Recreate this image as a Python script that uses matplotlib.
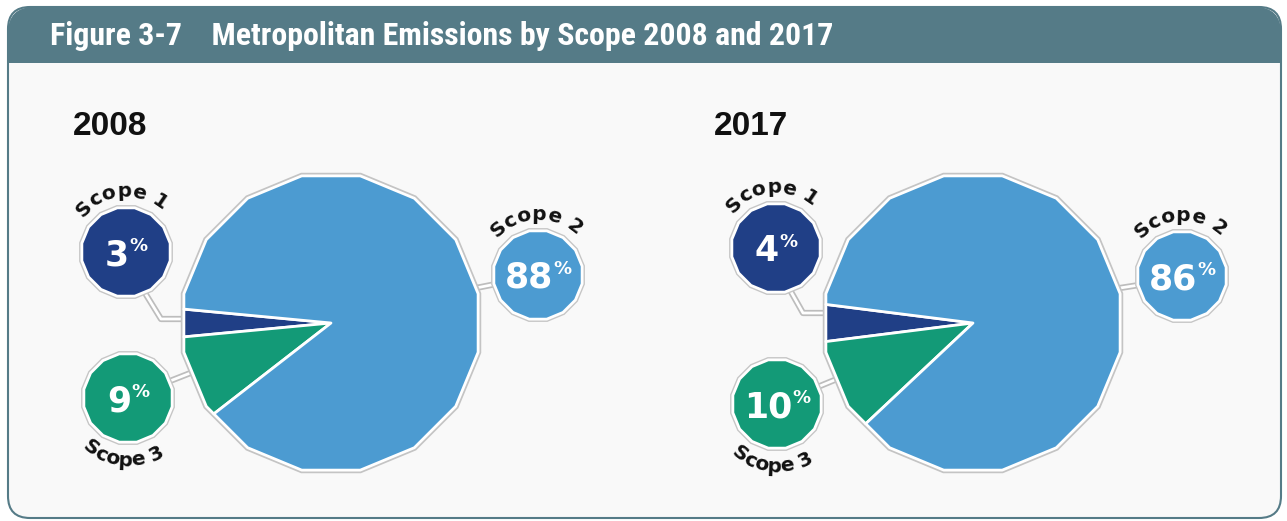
import matplotlib
matplotlib.use("Agg")
import numpy as np
import matplotlib.pyplot as plt
import matplotlib.patheffects as pe
from matplotlib.patches import FancyBboxPatch, Rectangle, RegularPolygon, Polygon
from matplotlib.font_manager import FontProperties, findfont
from matplotlib.textpath import text_to_path

# ---------------- data ----------------
title = "Figure 3-7    Metropolitan Emissions by Scope 2008 and 2017"
years = ["2008", "2017"]
scopes = ["Scope 1", "Scope 3", "Scope 2"]          # pie order (counter-clockwise)
values_2008 = [3, 9, 88]
values_2017 = [4, 10, 86]
values = {"2008": values_2008, "2017": values_2017}

# ---------------- styles / layout ----------------
scope_colors = ["#203f86", "#139a77", "#4c9bd1"]
header_color = "#557b87"
panel_color = "#f9f9f9"

W, H = 1287, 521
fig = plt.figure(figsize=(W / 100, H / 100), dpi=100)
fig.patch.set_facecolor("white")
ax = fig.add_axes([0, 0, 1, 1])


def Y(y):
    return H - y


pie_center = {"2008": (331, 323), "2017": (973, 323)}
pie_radius = 150
bubble_center = {"2008": [(126, 252), (128, 398), (538, 275)],
                 "2017": [(776, 248), (777, 404), (1182, 276)]}
bubble_radius = 45
label_side = ["top", "bottom", "top"]
label_angle = [95, 265, 92]
year_pos = {"2008": (73, 135), "2017": (714, 135)}
connectors = {"2008": [[(145, 293), (161, 319), (184, 319)],
                       [(170, 381), (193, 372)],
                       [(476, 288), (496, 284)]],
              "2017": [[(790, 290), (803, 313), (829, 313)],
                       [(820, 386), (837, 379)],
                       [(1120, 288), (1139, 285)]]}


def pick_font(cands):
    for c in cands:
        try:
            findfont(FontProperties(family=c), fallback_to_default=False)
            return c
        except Exception:
            continue
    return "DejaVu Sans"


title_font = pick_font(["Liberation Sans Narrow", "Roboto Condensed", "Open Sans Condensed",
                        "Noto Sans", "Open Sans"])

# ---------------- frame ----------------
panel = FancyBboxPatch((8, Y(518)), 1273, 511, boxstyle="round,pad=0,rounding_size=22",
                       facecolor=panel_color, edgecolor=header_color, linewidth=1.5, zorder=0)
ax.add_patch(panel)
header = FancyBboxPatch((8, Y(63)), 1273, 56, boxstyle="round,pad=0,rounding_size=26",
                        facecolor=header_color, edgecolor="none", zorder=0.5)
ax.add_patch(header)
ax.add_patch(Rectangle((8, Y(63)), 1273, 28, facecolor=header_color, edgecolor="none", zorder=0.6))

ttl = ax.text(50, Y(36), title, ha="left", va="center", color="white",
              fontsize=21, fontweight="bold", family=title_font, zorder=5)
fig.canvas.draw()
bb = ttl.get_window_extent()
target_w = 783
ttl.set_fontsize(21 * target_w / bb.width if bb.width > 0 else 21)


# ---------------- helpers ----------------
def poly_boundary(cx, cy, R, theta, n=16, off=11.25):
    step = 360.0 / n
    rel = (theta - off) % step
    d = R * np.cos(np.pi / n) / np.cos(np.radians(rel - step / 2))
    return cx + d * np.cos(np.radians(theta)), cy + d * np.sin(np.radians(theta))


def poly_wedge(cx, cy, R, t1, t2, n=16, off=11.25):
    step = 360.0 / n
    pts = [(cx, cy), poly_boundary(cx, cy, R, t1, n, off)]
    a = off + np.ceil((t1 - off) / step) * step
    while a < t2 - 1e-9:
        pts.append((cx + R * np.cos(np.radians(a)), cy + R * np.sin(np.radians(a))))
        a += step
    pts.append(poly_boundary(cx, cy, R, t2, n, off))
    return pts


def text_width_px(s, fp):
    w, h, d = text_to_path.get_text_width_height_descent(s, fp, ismath=False)
    return w * 100.0 / 72.0


label_fp = FontProperties(family="DejaVu Sans", weight="bold", size=14.5)


def arc_text(text, cx, cy, radius, center_deg, side, fp, tracking=0.0):
    widths = [text_width_px(ch, fp) + tracking for ch in text]
    total = sum(widths)
    pos = np.cumsum([0] + widths[:-1]) + np.array(widths) / 2
    for ch, p in zip(text, pos):
        off = np.degrees((total / 2 - p) / radius)
        if side == "top":
            ang = center_deg + off
            rot = ang - 90
        else:
            ang = center_deg - off
            rot = ang + 90
        x = cx + radius * np.cos(np.radians(ang))
        y = cy + radius * np.sin(np.radians(ang))
        ax.text(x, y, ch, ha="center", va="baseline", rotation=rot, rotation_mode="anchor",
                fontproperties=fp, color="#111111", zorder=6)


num_fp = FontProperties(family="DejaVu Sans", weight="bold", size=25)
pct_fp = FontProperties(family="DejaVu Sans", weight="bold", size=13)
shadow = [pe.Stroke(linewidth=4, foreground="#c6c6c6"), pe.Normal()]

# ---------------- pies ----------------
for yr in years:
    vals = values[yr]
    cx, cyp = pie_center[yr]
    cy = Y(cyp)
    start = 180 - vals[0] * 3.6 / 2
    wedges, _ = ax.pie(vals, colors=scope_colors, startangle=start, counterclock=True,
                       center=(cx, cy), radius=pie_radius)
    # soft drop-shadow outline of the whole (polygonal) pie
    ax.add_patch(RegularPolygon((cx, cy), numVertices=16, radius=pie_radius,
                                orientation=np.radians(11.25),
                                facecolor="none", edgecolor="#c4c4c4", linewidth=4.5, zorder=1.5))
    for w in wedges:
        pts = poly_wedge(w.center[0], w.center[1], w.r, w.theta1, w.theta2)
        ax.add_patch(Polygon(pts, closed=True, facecolor=w.get_facecolor(), edgecolor="white",
                             linewidth=2, joinstyle="round", zorder=2))
        w.set_visible(False)

    # year label
    xp, yp = year_pos[yr]
    ax.text(xp, Y(yp), yr, ha="left", va="baseline", fontsize=24, fontweight="bold",
            family="Liberation Sans", color="#111111", zorder=5)

    # connectors
    for line in connectors[yr]:
        xs = [p[0] for p in line]
        ys = [Y(p[1]) for p in line]
        ax.plot(xs, ys, color="#bdbdbd", lw=4.5, solid_capstyle="butt", zorder=1)
        ax.plot(xs, ys, color="white", lw=2, solid_capstyle="butt", zorder=1.1)

    # bubbles
    for i, (sc, v) in enumerate(zip(scopes, vals)):
        bx, byp = bubble_center[yr][i]
        by = Y(byp)
        ax.add_patch(RegularPolygon((bx, by), numVertices=16, radius=bubble_radius,
                                    orientation=np.radians(11.25),
                                    facecolor=scope_colors[i], edgecolor="white", linewidth=2,
                                    path_effects=shadow, zorder=3))
        num = f"{v}"
        wn = text_width_px(num, num_fp)
        wp = text_width_px("%", pct_fp)
        x0 = bx - (wn + wp) / 2
        ax.text(x0, Y(byp + 13), num, ha="left", va="baseline", fontproperties=num_fp,
                color="white", zorder=5)
        ax.text(x0 + wn, Y(byp - 1), "%", ha="left", va="baseline", fontproperties=pct_fp,
                color="white", zorder=5)
        if label_side[i] == "top":
            arc_text(sc, bx, by, bubble_radius + 10, label_angle[i], "top", label_fp)
        else:
            arc_text(sc, bx, by, bubble_radius + 23, label_angle[i], "bottom", label_fp)

ax.set_xlim(0, W)
ax.set_ylim(0, H)
ax.set_aspect("auto")
ax.axis("off")
fig.savefig("out.png", dpi=100, facecolor="white")
